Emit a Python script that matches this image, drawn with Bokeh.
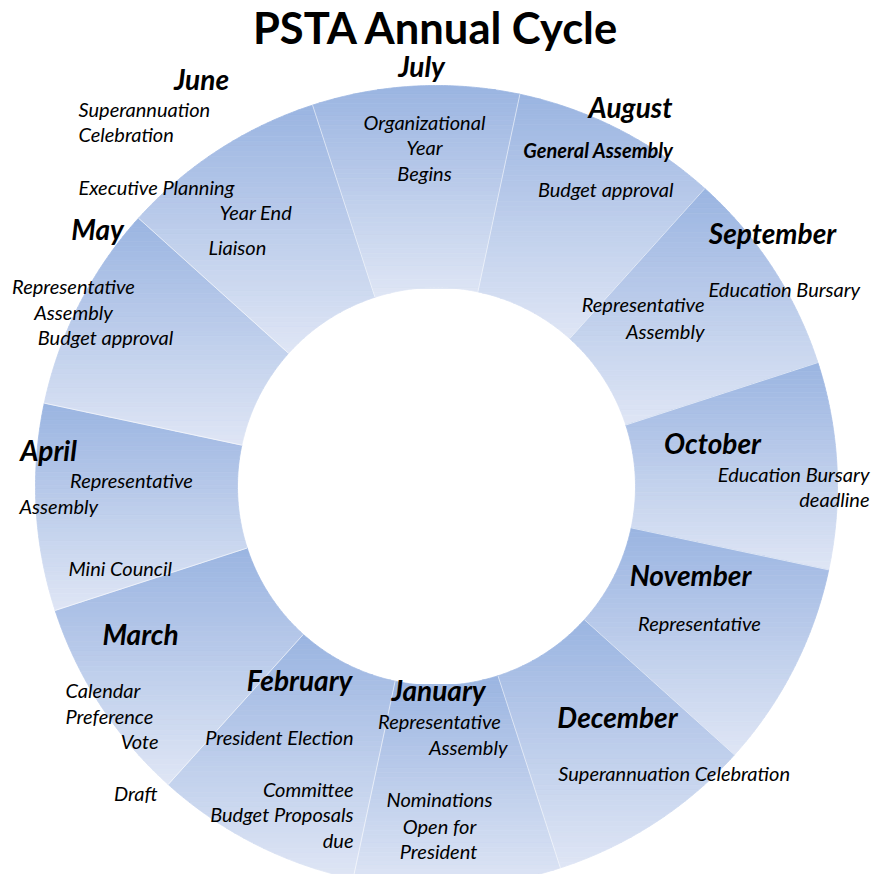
import numpy as np
from bokeh.plotting import figure
from bokeh.models import Range1d, ColumnDataSource
from bokeh.embed import file_html
from bokeh.resources import INLINE
from bokeh.core.properties import value

# ---------------- data ----------------
title_text = "PSTA Annual Cycle"
months = ["July", "August", "September", "October", "November", "December",
          "January", "February", "March", "April", "May", "June"]
slice_values = [1, 1, 1, 1, 1, 1, 1, 1, 1, 1, 1, 1]

event_month = ["June", "June", "June", "June", "June",
               "May", "May", "May",
               "July", "July", "July",
               "August", "August",
               "September", "September", "September",
               "October", "October",
               "November",
               "December",
               "January", "January", "January", "January", "January",
               "February", "February", "February", "February",
               "March", "March", "March", "March",
               "April", "April", "April"]
event_text = ["Superannuation", "Celebration", "Executive Planning", "Year End", "Liaison",
              "Representative", "Assembly", "Budget approval",
              "Organizational", "Year", "Begins",
              "General Assembly", "Budget approval",
              "Representative", "Assembly", "Education Bursary",
              "Education Bursary", "deadline",
              "Representative",
              "Superannuation  Celebration",
              "Representative", "Assembly", "Nominations", "Open for", "President",
              "President Election", "Committee", "Budget Proposals", "due",
              "Calendar", "Preference", "Vote", "Draft",
              "Representative", "Assembly", "Mini Council"]
event_bold = [False] * len(event_text)
event_bold[event_text.index("General Assembly")] = True

# ---------------- layout (pixel positions, not data) ----------------
CX, CY, R_OUT, R_IN = 436.0, 486.0, 401.0, 199.0
START_DEG = -18.0
TOP_RGB = np.array([154, 180, 225])
BOT_RGB = np.array([223, 230, 245])

month_pos = {  # center x, center y
    "July": (421, 65), "August": (630, 106), "September": (772, 232),
    "October": (712, 442), "November": (690, 574), "December": (617, 716),
    "January": (438, 689), "February": (299, 679), "March": (140, 633),
    "April": (48, 449), "May": (97, 228), "June": (201, 78),
}
event_pos = [  # x, center y, align
    (78, 108, "left"), (78, 133, "left"), (78, 186, "left"), (219, 211, "left"), (208, 246, "left"),
    (73, 285, "center"), (73, 311, "center"), (105, 336, "center"),
    (424, 121, "center"), (424, 146, "center"), (424, 172, "center"),
    (673, 149, "right"), (673, 188, "right"),
    (704, 303, "right"), (704, 330, "right"), (708, 288, "left"),
    (869, 473, "right"), (869, 498, "right"),
    (699, 622, "center"),
    (676, 772, "center"),
    (439, 720, "center"), (507, 746, "right"), (439, 798, "center"), (439, 825, "center"), (438, 850, "center"),
    (353, 736, "right"), (353, 788, "right"), (353, 813, "right"), (353, 839, "right"),
    (65, 689, "left"), (65, 715, "left"), (158, 740, "right"), (157, 792, "right"),
    (131, 479, "center"), (19, 505, "left"), (68, 567, "left"),
]

FONT = "Lato"
EVENT_SIZE = "20px"
MONTH_SIZE = "28px"
TITLE_SIZE = "43.5px"

# ---------------- geometry helpers ----------------
def pt(r, deg):
    t = np.radians(deg)
    return (CX + r * np.sin(t), CY - r * np.cos(t))

def wedge_poly(a0, a1, n=80):
    angs = np.linspace(a0, a1, n)
    outer = [pt(R_OUT, a) for a in angs]
    inner = [pt(R_IN, a) for a in angs[::-1]]
    return outer + inner

def clip(poly, y, keep_greater):
    out = []
    n = len(poly)
    for i in range(n):
        cur, prev = poly[i], poly[i - 1]
        cin = cur[1] >= y if keep_greater else cur[1] <= y
        pin = prev[1] >= y if keep_greater else prev[1] <= y
        if cin != pin:
            t = (y - prev[1]) / (cur[1] - prev[1])
            out.append((prev[0] + t * (cur[0] - prev[0]), y))
        if cin:
            out.append(cur)
    return out

def hexcol(rgb):
    return "#%02x%02x%02x" % tuple(int(round(c)) for c in rgb)

# ---------------- figure ----------------
p = figure(width=872, height=874, output_backend="svg", toolbar_location=None,
           x_range=Range1d(0, 872), y_range=Range1d(874, 0), min_border=0)
p.axis.visible = False
p.grid.visible = False
p.outline_line_color = None
p.background_fill_color = "white"
p.border_fill_color = "white"

total = float(sum(slice_values))
bounds = [START_DEG]
for v in slice_values:
    bounds.append(bounds[-1] + 360.0 * v / total)

xs, ys, cols = [], [], []
NB = 48
for i in range(len(months)):
    poly = wedge_poly(bounds[i], bounds[i + 1])
    ymin = min(q[1] for q in poly)
    ymax = max(q[1] for q in poly)
    edges = np.linspace(ymin, ymax, NB + 1)
    for b in range(NB):
        part = clip(poly, edges[b], True)
        part = clip(part, edges[b + 1], False) if part else []
        if len(part) < 3:
            continue
        f = (b + 0.5) / NB
        col = hexcol(TOP_RGB + (BOT_RGB - TOP_RGB) * f)
        xs.append([q[0] for q in part])
        ys.append([q[1] for q in part])
        cols.append(col)

p.patches(xs="xs", ys="ys", fill_color="c", line_color="c", line_width=0.8,
          source=ColumnDataSource(dict(xs=xs, ys=ys, c=cols)))

# separators
sx, sy = [], []
for a in bounds[:-1]:
    x0, y0 = pt(R_IN, a)
    x1, y1 = pt(R_OUT, a)
    sx.append([x0, x1]); sy.append([y0, y1])
p.multi_line(xs=sx, ys=sy, line_color="white", line_alpha=0.6, line_width=1)

# title
p.text(x=[436], y=[26], text=[title_text], text_font=value(FONT), text_font_style="bold",
       text_font_size=TITLE_SIZE, text_align="center", text_baseline="middle", text_color="black")

# month labels
mx = [month_pos[m][0] for m in months]
my = [month_pos[m][1] for m in months]
p.text(x=mx, y=my, text=months, text_font=value(FONT), text_font_style="bold italic",
       text_font_size=MONTH_SIZE, text_align="center", text_baseline="middle", text_color="black")

# events
for align in ("left", "center", "right"):
    for bold in (False, True):
        idx = [k for k in range(len(event_text)) if event_pos[k][2] == align and event_bold[k] == bold]
        if not idx:
            continue
        p.text(x=[event_pos[k][0] for k in idx], y=[event_pos[k][1] for k in idx],
               text=[event_text[k] for k in idx], text_font=value(FONT),
               text_font_style="bold italic" if bold else "italic",
               text_font_size=EVENT_SIZE, text_align=align, text_baseline="middle",
               text_color="black")

open("out.html", "w").write(file_html(p, INLINE))
